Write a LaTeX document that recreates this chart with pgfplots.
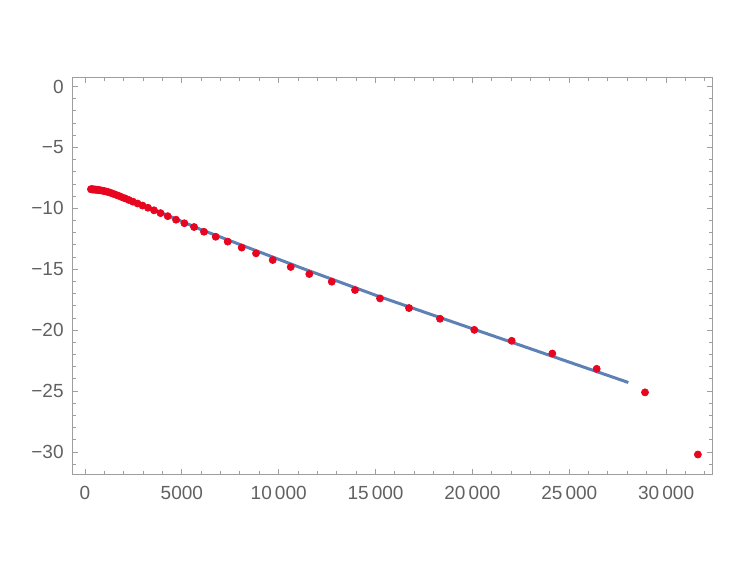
\documentclass[border=0pt]{standalone}
\usepackage{fontspec}
\setmainfont{Liberation Sans}
\usepackage{pgfplots}
\pgfplotsset{compat=1.18}
\definecolor{dotred}{rgb}{0.91,0.02,0.12}
\definecolor{fitblue}{rgb}{0.368,0.507,0.710}
\definecolor{framegray}{rgb}{0.62,0.62,0.62}
\definecolor{labgray}{rgb}{0.38,0.38,0.38}
\begin{document}
\begin{tikzpicture}
\begin{axis}[
  scale only axis,
  width=319.65pt, height=198pt,
  xmin=-635, xmax=32370,
  ymin=-31.8, ymax=0.7,
  scaled x ticks=false,
  scaled y ticks=false,
  axis line style={framegray, line width=0.5pt},
  every tick/.style={framegray, line width=0.5pt},
  major tick length=2.4pt,
  minor tick length=1.4pt,
  tick align=inside,
  xtick={0,5000,10000,15000,20000,25000,30000},
  xticklabels={0,5000,10\,000,15\,000,20\,000,25\,000,30\,000},
  minor xtick={1000,2000,3000,4000,6000,7000,8000,9000,11000,12000,13000,14000,16000,17000,18000,19000,21000,22000,23000,24000,26000,27000,28000,29000,31000,32000},
  ytick={-30,-25,-20,-15,-10,-5,0},
  yticklabels={−30,−25,−20,−15,−10,−5,0},
  minor ytick={-31,-29,-28,-27,-26,-24,-23,-22,-21,-19,-18,-17,-16,-14,-13,-12,-11,-9,-8,-7,-6,-4,-3,-2,-1},
  ticklabel style={font=\fontsize{9.5}{11}\selectfont, text=labgray},
  xticklabel style={yshift=-2.5pt},
  yticklabel style={xshift=-1pt},
]
\addplot[only marks, mark=*, mark size=1.75pt, color=dotred, mark options={draw=dotred, fill=dotred}] coordinates {
(307,-8.43) (336,-8.43) (368,-8.44) (403,-8.44) (442,-8.45) (484,-8.45)
(530,-8.46) (580,-8.47) (635,-8.48) (695,-8.49) (761,-8.51) (833,-8.53)
(913,-8.55) (999,-8.58) (1094,-8.62) (1198,-8.66) (1312,-8.72) (1437,-8.79)
(1574,-8.87) (1723,-8.96) (1887,-9.07) (2066,-9.18) (2262,-9.31) (2477,-9.45)
(2712,-9.60) (2970,-9.77) (3252,-9.95) (3561,-10.16) (3900,-10.39) (4270,-10.64)
(4700,-10.93) (5130,-11.22) (5630,-11.53) (6143,-11.92) (6747,-12.33) (7367,-12.73)
(8090,-13.22) (8829,-13.69) (9690,-14.24) (10620,-14.81) (11580,-15.39) (12740,-16.02)
(13940,-16.70) (15230,-17.39) (16727,-18.18) (18327,-19.06) (20098,-19.97) (22029,-20.87)
(24125,-21.91) (26417,-23.17) (28910,-25.10) (31640,-30.20)
};
\addplot[fitblue, line width=1.5pt] coordinates {
(1290,-8.62) (3000,-9.72) (6000,-11.75) (11100,-14.85) (15230,-17.26) (20098,-19.93) (28050,-24.29)
};
\end{axis}
\path (current axis.south west) ++(-36.35pt,-52pt) rectangle ([shift={(17.5pt,39pt)}]current axis.north east);
\end{tikzpicture}
\end{document}
